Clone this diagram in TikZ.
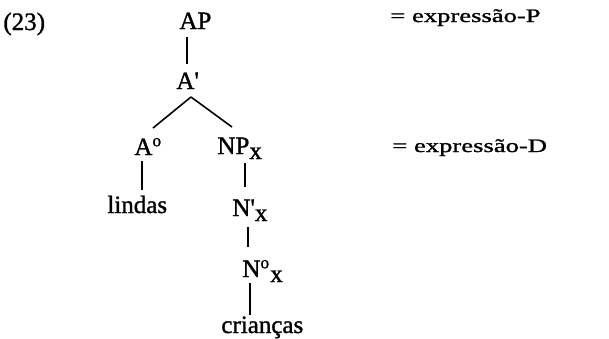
\documentclass[tikz,border=0pt]{standalone}
\usepackage{fontspec}
\setmainfont{Liberation Serif}[FakeBold=1.2]
\newfontfamily\widefont{Liberation Serif}[FakeStretch=1.4,FakeBold=1.2]
\newcommand\xsub[1]{\raisebox{-2.5pt}{#1}}
\begin{document}
\begin{tikzpicture}[x=0.5pt,y=-0.5pt,
  lbl/.style={inner sep=0pt, anchor=base west, font=\fontsize{12.5}{15}\selectfont},
  rt/.style={inner sep=0pt, anchor=base west, font=\fontsize{9.5}{12}\widefont},
  vedge/.style={line width=1.4pt},
  dedge/.style={line width=0.8pt}]
\useasboundingbox (0,0) rectangle (609,338);
\node[lbl] (num) at (3,30) {(23)};
\node[lbl] (AP) at (179,29) {AP};
\node[lbl] (Ab) at (176,89) {A\textquotesingle};
\node[lbl] (A0) at (134,155) {A\textsuperscript{o}};
\node[lbl] (NP) at (217,154) {NP\xsub{x}};
\node[lbl] (lindas) at (107,213) {lindas};
\node[lbl] (Nb) at (232,216) {N\textquotesingle\xsub{x}};
\node[lbl] (N0) at (242,277) {N\textsuperscript{o}\xsub{x}};
\node[lbl] (cri) at (221,333) {crianças};
\node[rt] (P) at (390,22) {= expressão-P};
\node[rt] (D) at (392,152) {= expressão-D};
\draw[vedge] ([shift={(4pt,-4pt)}]AP.base west) -- ([shift={(5.5pt,12.5pt)}]Ab.base west);
\draw[dedge] ([shift={(7.5pt,-4pt)}]Ab.base west) -- ([shift={(9.5pt,13.5pt)}]A0.base west);
\draw[dedge] ([shift={(7.5pt,-4pt)}]Ab.base west) -- ([shift={(7.5pt,13.5pt)}]NP.base west);
\draw[vedge] ([shift={(4pt,-3pt)}]A0.base west) -- ([shift={(17.5pt,11.5pt)}]lindas.base west);
\draw[vedge] ([shift={(14pt,-4.5pt)}]NP.base west) -- ([shift={(6.5pt,14.5pt)}]Nb.base west);
\draw[vedge] ([shift={(8pt,-5.5pt)}]Nb.base west) -- ([shift={(3pt,15pt)}]N0.base west);
\draw[vedge] ([shift={(4pt,-3pt)}]N0.base west) -- ([shift={(14.5pt,9pt)}]cri.base west);
\end{tikzpicture}
\end{document}
